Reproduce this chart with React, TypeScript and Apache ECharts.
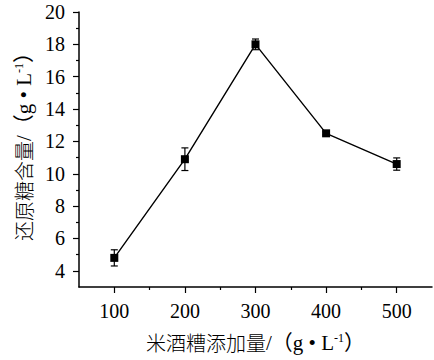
import React, { useEffect, useRef } from "react";
import * as echarts from "echarts";

const doses = [100, 200, 300, 400, 500];
const sugar = [4.8, 10.9, 18.0, 12.5, 10.6];
const errors = [0.5, 0.7, 0.33, 0.1, 0.38];
const xMajorTicks = [100, 200, 300, 400, 500];
const xMinorTicks = [150, 250, 350, 450];
const yMajorTicks = [4, 6, 8, 10, 12, 14, 16, 18, 20];
const yMinorTicks = [5, 7, 9, 11, 13, 15, 17, 19];

const FONT = "'Liberation Serif', 'Times New Roman', 'Noto Sans CJK SC', serif";
const CJK = "'Noto Sans CJK SC', 'Liberation Serif', serif";

export default function App() {
  const ref = useRef<HTMLDivElement>(null);
  useEffect(() => {
    if (!ref.current) return;
    const chart = echarts.init(ref.current, null, { renderer: "svg" });
    const lineData = doses.map((d, i) => [d, sugar[i]]);
    const errData = doses.map((d, i) => [d, sugar[i] - errors[i], sugar[i] + errors[i]]);
    const nameRich = {
      c: { fontFamily: CJK, fontSize: 20, color: "#000", fontWeight: 300 },
      t: { fontFamily: FONT, fontSize: 21, color: "#000" },
      s: { fontFamily: FONT, fontSize: 12, color: "#000", verticalAlign: "top", padding: [0, 0, 8, 0] },
    };
    const axisLine = { show: true, lineStyle: { color: "#000", width: 1.5 } };
    chart.setOption({
      animation: false,
      backgroundColor: "#fff",
      grid: { left: 79, top: 12, right: 2, bottom: 73, outerBoundsMode: "none", containLabel: false },
      xAxis: [
        {
          type: "value",
          min: 50,
          max: 550,
          position: "bottom",
          axisLine,
          axisTick: { show: true, customValues: xMajorTicks, length: 6, lineStyle: { color: "#000", width: 1.2 } },
          axisLabel: { customValues: xMajorTicks, margin: 14, fontFamily: FONT, fontSize: 20, color: "#000" },
          splitLine: { show: false },
          name: "{c|米酒糟添加量}{t|/（g • L}{s|-1}{t|）}",
          nameLocation: "middle",
          nameGap: 45,
          nameTextStyle: { color: "#000", rich: nameRich },
        },
        {
          type: "value",
          min: 50,
          max: 550,
          position: "bottom",
          axisLine: { show: false },
          axisTick: { show: true, customValues: xMinorTicks, length: 3, lineStyle: { color: "#000", width: 1.2 } },
          axisLabel: { show: false },
          splitLine: { show: false },
        },
      ],
      yAxis: [
        {
          type: "value",
          min: 3,
          max: 20,
          position: "left",
          axisLine,
          axisTick: { show: true, customValues: yMajorTicks, length: 6, lineStyle: { color: "#000", width: 1.2 } },
          axisLabel: { customValues: yMajorTicks, margin: 14, fontFamily: FONT, fontSize: 20, color: "#000" },
          splitLine: { show: false },
          name: "{c|还原糖含量}{t|/（g • L}{s|-1}{t|）}",
          nameLocation: "middle",
          nameGap: 45,
          nameTextStyle: { color: "#000", rich: nameRich, padding: [0, 0, 0, 16] },
        },
        {
          type: "value",
          min: 3,
          max: 20,
          position: "left",
          axisLine: { show: false },
          axisTick: { show: true, customValues: yMinorTicks, length: 3, lineStyle: { color: "#000", width: 1.2 } },
          axisLabel: { show: false },
          splitLine: { show: false },
        },
      ],
      series: [
        {
          type: "line",
          data: lineData,
          xAxisIndex: 0,
          yAxisIndex: 0,
          symbol: "rect",
          symbolSize: 8,
          itemStyle: { color: "#000" },
          lineStyle: { color: "#000", width: 1.4 },
          z: 3,
        },
        {
          type: "custom",
          xAxisIndex: 0,
          yAxisIndex: 0,
          data: errData,
          z: 2,
          renderItem: (params: any, api: any) => {
            const x = api.value(0);
            const lo = api.coord([x, api.value(1)]);
            const hi = api.coord([x, api.value(2)]);
            const cap = 3.5;
            const style = { stroke: "#000", lineWidth: 1.2 };
            return {
              type: "group",
              children: [
                { type: "line", shape: { x1: lo[0], y1: lo[1], x2: hi[0], y2: hi[1] }, style },
                { type: "line", shape: { x1: lo[0] - cap, y1: lo[1], x2: lo[0] + cap, y2: lo[1] }, style },
                { type: "line", shape: { x1: hi[0] - cap, y1: hi[1], x2: hi[0] + cap, y2: hi[1] }, style },
              ],
            };
          },
        },
      ],
    });
    return () => chart.dispose();
  }, []);
  return <div ref={ref} style={{ position: "fixed", left: 0, top: 0, width: 434, height: 360 }} />;
}
